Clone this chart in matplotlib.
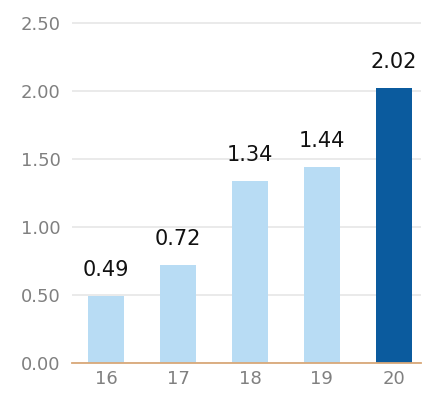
import matplotlib
matplotlib.use("Agg")
import matplotlib.pyplot as plt

years = ["16", "17", "18", "19", "20"]
values = [0.49, 0.72, 1.34, 1.44, 2.02]
colors = ["#b8dcf4", "#b8dcf4", "#b8dcf4", "#b8dcf4", "#0b5b9e"]
yticks = [0.0, 0.5, 1.0, 1.5, 2.0, 2.5]

plt.rcParams["font.family"] = ["DejaVu Sans"]

fig = plt.figure(figsize=(4.33, 3.98), dpi=100)
ax = fig.add_axes([0.166, 0.088, 0.806, 0.888])

x = range(len(years))
ax.bar(x, values, width=0.5, color=colors, zorder=2)

# value labels above each bar
for xi, v in zip(x, values):
    ax.text(xi, v + 0.12, f"{v:.2f}", ha="center", va="bottom",
            fontsize=15, color="#111111")

ax.set_xlim(-0.48, 4.38)
ax.set_ylim(0, 2.6)
ax.set_yticks(yticks)
ax.set_yticklabels([f"{t:.2f}" for t in yticks])
ax.set_xticks(list(x))
ax.set_xticklabels(years)

ax.grid(axis="y", color="#e6e6e6", linewidth=1.2, zorder=0)
ax.tick_params(axis="both", length=0, labelsize=13, labelcolor="#808080")
ax.tick_params(axis="y", pad=8)
ax.tick_params(axis="x", pad=5)

for side in ["top", "right", "left"]:
    ax.spines[side].set_visible(False)
ax.spines["bottom"].set_color("#d9a878")
ax.spines["bottom"].set_linewidth(1.3)
ax.spines["bottom"].set_zorder(3)

fig.savefig("out.png", dpi=100)
plt.close(fig)
